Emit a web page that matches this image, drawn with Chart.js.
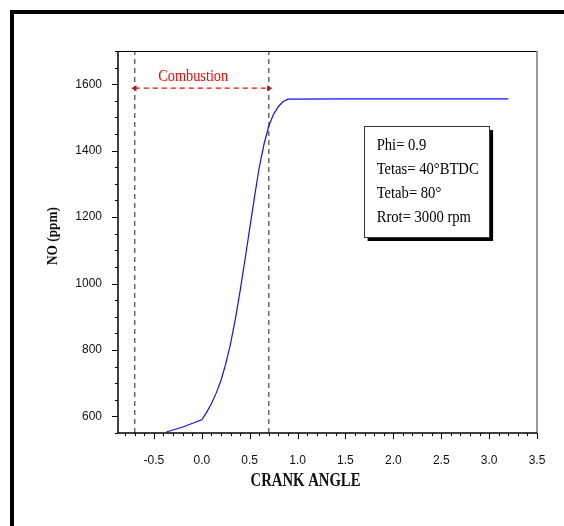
<!DOCTYPE html>
<html>
<head>
<meta charset="utf-8">
<script src="https://cdn.jsdelivr.net/npm/chart.js@4/dist/chart.umd.min.js"></script>
<style>
  html, body { margin: 0; padding: 0; background: #fff; }
  #wrap { width: 564px; height: 526px; }
</style>
</head>
<body>
<div id="wrap"><canvas id="noChart" width="564" height="526"></canvas></div>
<script>
// curve
const crankAngle = [-0.37, -0.2, 0.0, 0.05, 0.1, 0.15, 0.2, 0.25, 0.3, 0.35, 0.4, 0.45, 0.5, 0.55,
  0.6, 0.65, 0.7, 0.75, 0.8, 0.85, 0.9, 1.5, 3.2];
const noPpm = [553, 568, 590, 612, 638, 670, 708, 758, 818, 893, 978, 1070, 1165, 1260,
  1350, 1420, 1475, 1510, 1533, 1548, 1555, 1556, 1556];

const xTicks = [-0.5, 0.0, 0.5, 1.0, 1.5, 2.0, 2.5, 3.0, 3.5];
const yTicks = [600, 800, 1000, 1200, 1400, 1600];

const combustionStart = -0.7;
const combustionEnd = 0.7;
const arrowLevel = 1588;
const infoLines = ['Phi= 0.9', 'Tetas= 40°BTDC', 'Tetab= 80°', 'Rrot= 3000 rpm'];

const canvas = document.getElementById('noChart');

// draws text squeezed horizontally to a target width
function squeeze(ctx, txt, x, y, w, align) {
  const m = ctx.measureText(txt).width;
  const s = Math.min(1, w / m);
  ctx.save();
  ctx.translate(x, y);
  ctx.scale(s, 1);
  ctx.textAlign = align;
  ctx.fillText(txt, 0, 0);
  ctx.restore();
}

const decorations = {
  id: 'decorations',
  beforeDraw(chart) {
    const ctx = chart.ctx;
    ctx.save();
    ctx.fillStyle = '#fff';
    ctx.fillRect(0, 0, chart.width, chart.height);
    // outer frame (only left and top visible)
    ctx.fillStyle = '#000';
    ctx.fillRect(10, 10, 4, chart.height - 10);
    ctx.fillRect(10, 10, chart.width - 10, 4);
    ctx.restore();
  },
  afterDatasetsDraw(chart) {
    const ctx = chart.ctx;
    const a = chart.chartArea;
    const xs = chart.scales.x;
    const ys = chart.scales.y;
    ctx.save();

    // plot border
    ctx.lineWidth = 1;
    ctx.strokeStyle = '#000';
    ctx.beginPath();
    ctx.moveTo(a.left, a.top + 0.5);
    ctx.lineTo(a.right, a.top + 0.5);
    ctx.stroke();
    ctx.strokeStyle = '#777';
    ctx.lineWidth = 1.5;
    ctx.beginPath();
    ctx.moveTo(a.right, a.top);
    ctx.lineTo(a.right, a.bottom);
    ctx.stroke();
    ctx.strokeStyle = '#000';
    ctx.lineWidth = 1.5;
    ctx.beginPath();
    ctx.moveTo(a.left, a.top);
    ctx.lineTo(a.left, a.bottom);
    ctx.lineTo(a.right, a.bottom);
    ctx.stroke();

    // ticks
    ctx.lineWidth = 1;
    for (let i = -8; i <= 35; i++) {
      const px = Math.round(xs.getPixelForValue(i / 10)) + 0.5;
      const len = i % 5 === 0 ? 6 : 3;
      ctx.beginPath();
      ctx.moveTo(px, a.bottom);
      ctx.lineTo(px, a.bottom + len);
      ctx.stroke();
    }
    for (let v = 550; v <= 1700; v += 50) {
      const py = Math.round(ys.getPixelForValue(v)) + 0.5;
      const len = v % 200 === 0 ? 6 : 3;
      ctx.beginPath();
      ctx.moveTo(a.left, py);
      ctx.lineTo(a.left - len, py);
      ctx.stroke();
    }

    // "Combustion" label
    ctx.fillStyle = '#ff0000';
    ctx.font = '17px "Liberation Serif"';
    ctx.textBaseline = 'middle';
    squeeze(ctx, 'Combustion', xs.getPixelForValue(-0.09), ys.getPixelForValue(1624), 70, 'center');

    // info box with shadow
    const bx1 = xs.getPixelForValue(1.69), bx2 = xs.getPixelForValue(3.0);
    const by1 = ys.getPixelForValue(1474), by2 = ys.getPixelForValue(1140);
    ctx.fillStyle = '#000';
    ctx.fillRect(bx1 + 4, by1 + 4, bx2 - bx1, by2 - by1);
    ctx.fillStyle = '#fff';
    ctx.fillRect(bx1, by1, bx2 - bx1, by2 - by1);
    ctx.strokeStyle = '#333';
    ctx.lineWidth = 1;
    ctx.strokeRect(Math.round(bx1) + 0.5, Math.round(by1) + 0.5, Math.round(bx2 - bx1), Math.round(by2 - by1));
    ctx.fillStyle = '#000';
    ctx.font = '16px "Liberation Serif"';
    const s = 102 / ctx.measureText(infoLines[1]).width;
    infoLines.forEach((t, i) => {
      ctx.save();
      ctx.translate(bx1 + 13, by1 + 20 + i * 24);
      ctx.scale(s, 1);
      ctx.textAlign = 'left';
      ctx.fillText(t, 0, 0);
      ctx.restore();
    });

    // axis titles
    ctx.font = 'bold 19px "Liberation Serif"';
    ctx.fillStyle = '#111';
    squeeze(ctx, 'CRANK ANGLE', (a.left + a.right) / 2 - 22, a.bottom + 48, 110, 'center');
    ctx.save();
    ctx.translate(53, 236);
    ctx.rotate(-Math.PI / 2);
    ctx.font = 'bold 15px "Liberation Serif"';
    squeeze(ctx, 'NO (ppm)', 0, 0, 58, 'center');
    ctx.restore();

    ctx.restore();
  }
};

new Chart(canvas, {
  type: 'line',
  data: {
    datasets: [
      {
        data: crankAngle.map((x, i) => ({ x, y: noPpm[i] })),
        borderColor: '#1010ff',
        borderWidth: 1.2,
        pointRadius: 0,
        tension: 0,
        fill: false
      },
      {
        data: [{ x: combustionStart, y: 550 }, { x: combustionStart, y: 1700 }],
        borderColor: '#444',
        borderWidth: 1.2,
        borderDash: [5, 4],
        pointRadius: 0
      },
      {
        data: [{ x: combustionEnd, y: 550 }, { x: combustionEnd, y: 1700 }],
        borderColor: '#444',
        borderWidth: 1.2,
        borderDash: [5, 4],
        pointRadius: 0
      },
      {
        data: [{ x: combustionStart, y: arrowLevel }, { x: combustionEnd, y: arrowLevel }],
        borderColor: '#ff0000',
        backgroundColor: '#ff0000',
        borderWidth: 1.2,
        borderDash: [5, 4],
        pointStyle: 'triangle',
        pointRadius: 3.5,
        pointBorderWidth: 0,
        pointRotation: ctx => ctx.dataIndex ? 90 : -90
      }
    ]
  },
  options: {
    responsive: false,
    animation: false,
    layout: { padding: { left: 60, right: 27, top: 51, bottom: 60 } },
    plugins: { legend: { display: false }, tooltip: { enabled: false } },
    scales: {
      x: {
        type: 'linear',
        min: -0.875,
        max: 3.5,
        afterBuildTicks: s => { s.ticks = xTicks.map(v => ({ value: v })); },
        afterFit: s => { s.height = 33; },
        grid: { display: false },
        border: { display: false },
        ticks: {
          padding: 12,
          color: '#111',
          font: { family: 'Liberation Sans', size: 12 },
          maxRotation: 0,
          callback: v => v.toFixed(1)
        }
      },
      y: {
        min: 550,
        max: 1700,
        afterBuildTicks: s => { s.ticks = yTicks.map(v => ({ value: v })); },
        afterFit: s => { s.width = 58; },
        grid: { display: false },
        border: { display: false },
        ticks: {
          padding: 8,
          color: '#111',
          font: { family: 'Liberation Sans', size: 12 },
          callback: v => String(v)
        }
      }
    }
  },
  plugins: [decorations]
});
</script>
</body>
</html>
